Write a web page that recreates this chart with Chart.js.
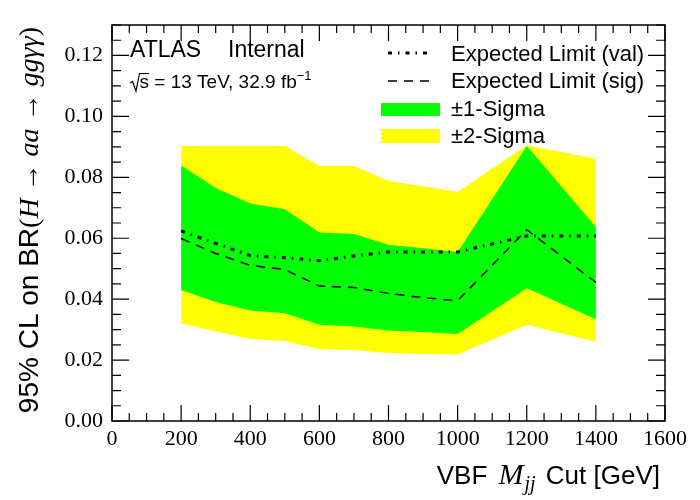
<!DOCTYPE html>
<html>
<head>
<meta charset="utf-8">
<script src="https://cdn.jsdelivr.net/npm/chart.js@4.4.1/dist/chart.umd.min.js"></script>
<style>
  html, body { margin: 0; padding: 0; background: #fff; }
  #wrap { width: 700px; height: 500px; position: relative; }
</style>
</head>
<body>
<div id="wrap"><canvas id="limitChart"></canvas></div>
<script>
// VBF Mjj cut values [GeV]
const mjjCuts = [200, 300, 400, 500, 600, 700, 800, 900, 1000, 1200, 1400];

// expected limits on BR(H -> aa -> gg yy)
const expVal = [0.0624, 0.0583, 0.0543, 0.0536, 0.0526, 0.0542, 0.0555, 0.0555, 0.0555, 0.0607, 0.0607];
const expSig = [0.0599, 0.0550, 0.0511, 0.0497, 0.0443, 0.0438, 0.0419, 0.0405, 0.0395, 0.0628, 0.0455];

// sigma bands
const sig1Up = [0.0839, 0.0765, 0.0714, 0.0695, 0.0619, 0.0614, 0.0579, 0.0567, 0.0555, 0.0903, 0.0637];
const sig1Dn = [0.0430, 0.0391, 0.0363, 0.0354, 0.0316, 0.0310, 0.0297, 0.0292, 0.0286, 0.0436, 0.0334];
const sig2Up = [0.0903, 0.0903, 0.0903, 0.0903, 0.0837, 0.0837, 0.0788, 0.0771, 0.0752, 0.0905, 0.0861];
const sig2Dn = [0.0321, 0.0294, 0.0269, 0.0263, 0.0236, 0.0233, 0.0223, 0.0220, 0.0218, 0.0316, 0.0260];

// axis tick labels
const xTickVals = [0, 200, 400, 600, 800, 1000, 1200, 1400, 1600];
const yTickVals = [0, 0.02, 0.04, 0.06, 0.08, 0.10, 0.12];

const GREEN = '#00ff00';
const YELLOW = '#ffff00';
const SANS = '"Liberation Sans", Arial, sans-serif';
const SERIF = '"Liberation Serif", "Times New Roman", serif';

const VAL_DASH = [4, 6, 1.5, 6];
const SIG_DASH = [9, 7];

function pts(ys) {
    return mjjCuts.map((x, i) => ({ x: x, y: ys[i] }));
}

function band(ys, fillTo, color, order) {
    return {
        data: pts(ys),
        borderWidth: 0,
        pointRadius: 0,
        backgroundColor: color,
        borderColor: color,
        fill: fillTo,
        order: order,
        tension: 0
    };
}

// draw a run of text pieces with different fonts, left to right
function drawPieces(ctx, pieces, x, y) {
    let cx = x;
    pieces.forEach(p => {
        ctx.font = p.f;
        ctx.fillText(p.t, cx, y + (p.dy || 0));
        cx += ctx.measureText(p.t).width + (p.gap || 0);
    });
    return cx;
}

function piecesWidth(ctx, pieces) {
    let w = 0;
    pieces.forEach(p => {
        ctx.font = p.f;
        w += ctx.measureText(p.t).width + (p.gap || 0);
    });
    return w;
}

// ROOT-like frame with inner ticks on all four sides
const frameTicks = {
    id: 'frameTicks',
    afterDatasetsDraw(chart) {
        const ctx = chart.ctx;
        const a = chart.chartArea;
        const xs = chart.scales.x;
        const ys = chart.scales.y;
        ctx.save();
        ctx.strokeStyle = '#000';
        ctx.lineWidth = 1.2;
        ctx.beginPath();
        for (let v = xs.min; v <= xs.max + 1e-9; v += 50) {
            const px = xs.getPixelForValue(v);
            const len = (v % 200 === 0) ? 16 : 8;
            ctx.moveTo(px, a.bottom); ctx.lineTo(px, a.bottom - len);
            ctx.moveTo(px, a.top); ctx.lineTo(px, a.top + len);
        }
        for (let k = 0; k <= 26; k++) {
            const v = k * 0.005;
            const py = ys.getPixelForValue(v);
            const len = (k % 4 === 0) ? 17 : 9;
            ctx.moveTo(a.left, py); ctx.lineTo(a.left + len, py);
            ctx.moveTo(a.right, py); ctx.lineTo(a.right - len, py);
        }
        ctx.stroke();
        ctx.lineWidth = 1.5;
        ctx.strokeRect(a.left, a.top, a.right - a.left, a.bottom - a.top);
        ctx.restore();
    }
};

// axis titles, ATLAS label and legend
const annotations = {
    id: 'annotations',
    afterDraw(chart) {
        const ctx = chart.ctx;
        const a = chart.chartArea;
        ctx.save();
        ctx.fillStyle = '#000';
        ctx.textBaseline = 'alphabetic';
        ctx.textAlign = 'left';

        // y title, rotated, ending near the top of the frame
        const yt = [
            { t: '95% CL on BR', f: '28px ' + SANS },
            { t: '(', f: '28px ' + SERIF },
            { t: 'H', f: 'italic 28px ' + SERIF },
            { t: ' \u2192 ', f: '28px ' + SERIF },
            { t: 'aa', f: 'italic 28px ' + SERIF },
            { t: ' \u2192 ', f: '28px ' + SERIF },
            { t: 'gg\u03b3\u03b3', f: 'italic 28px ' + SERIF },
            { t: ')', f: '28px ' + SERIF }
        ];
        const yw = piecesWidth(ctx, yt);
        ctx.save();
        ctx.translate(38, a.top + 2);
        ctx.rotate(-Math.PI / 2);
        drawPieces(ctx, yt, -yw, 0);
        ctx.restore();

        // x title, right aligned to the frame
        const xt = [
            { t: 'VBF ', f: '26px ' + SANS, gap: 4 },
            { t: 'M', f: 'italic 30px ' + SERIF, gap: 1 },
            { t: 'jj', f: 'italic 20px ' + SERIF, dy: 6, gap: 3 },
            { t: ' Cut [GeV]', f: '26px ' + SANS }
        ];
        const xw = piecesWidth(ctx, xt);
        drawPieces(ctx, xt, a.right - 5 - xw, 484);

        // ATLAS label
        ctx.font = '23px ' + SANS;
        ctx.fillText('ATLAS', 130, 57);
        ctx.fillText('Internal', 228, 57);

        // sqrt(s) with a drawn radical sign
        ctx.lineWidth = 1.2;
        ctx.strokeStyle = '#000';
        ctx.beginPath();
        ctx.moveTo(130, 83);
        ctx.lineTo(132.5, 81.5);
        ctx.lineTo(136, 91);
        ctx.lineTo(139.5, 73.5);
        ctx.lineTo(149, 73.5);
        ctx.stroke();
        const lumi = [
            { t: 's = 13 TeV, 32.9 fb', f: '19px ' + SANS },
            { t: '\u22121', f: '13px ' + SANS, dy: -8 }
        ];
        drawPieces(ctx, lumi, 139.5, 88);

        // legend
        const ds = chart.data.datasets;
        ctx.font = '22px ' + SANS;
        const tx = 451;
        ctx.lineWidth = ds[4].borderWidth;
        ctx.setLineDash(ds[4].borderDash);
        ctx.beginPath(); ctx.moveTo(388, 53); ctx.lineTo(433, 53); ctx.stroke();
        ctx.lineWidth = ds[5].borderWidth;
        ctx.setLineDash(ds[5].borderDash);
        ctx.beginPath(); ctx.moveTo(388, 81); ctx.lineTo(433, 81); ctx.stroke();
        ctx.setLineDash([]);
        ctx.fillText(ds[4].label, tx, 61);
        ctx.fillText(ds[5].label, tx, 88);
        ctx.fillStyle = ds[2].backgroundColor;
        ctx.fillRect(381, 103, 59, 13);
        ctx.fillStyle = ds[0].backgroundColor;
        ctx.fillRect(381, 129, 59, 14);
        ctx.fillStyle = '#000';
        ctx.fillText('\u00b11-Sigma', tx, 116);
        ctx.fillText('\u00b12-Sigma', tx, 143);
        ctx.restore();
    }
};

const ctx = document.getElementById('limitChart').getContext('2d');
new Chart(ctx, {
    type: 'line',
    data: {
        datasets: [
            band(sig2Up, 1, YELLOW, 5),
            band(sig2Dn, false, YELLOW, 5),
            band(sig1Up, 3, GREEN, 4),
            band(sig1Dn, false, GREEN, 4),
            {
                label: 'Expected Limit (val)',
                data: pts(expVal),
                borderColor: '#000',
                borderWidth: 3,
                borderDash: VAL_DASH,
                pointRadius: 0,
                fill: false,
                order: 1,
                tension: 0
            },
            {
                label: 'Expected Limit (sig)',
                data: pts(expSig),
                borderColor: '#000',
                borderWidth: 1.5,
                borderDash: SIG_DASH,
                pointRadius: 0,
                fill: false,
                order: 1,
                tension: 0
            }
        ]
    },
    options: {
        responsive: true,
        maintainAspectRatio: false,
        animation: false,
        layout: { padding: { top: 25, right: 35, left: 0, bottom: 0 } },
        plugins: {
            legend: { display: false },
            tooltip: { enabled: false },
            filler: { propagate: false }
        },
        scales: {
            x: {
                type: 'linear',
                min: 0,
                max: 1600,
                grid: { display: false, drawTicks: false },
                border: { display: false },
                afterBuildTicks(scale) {
                    scale.ticks = xTickVals.map(v => ({ value: v }));
                },
                afterFit(scale) { scale.height = 79; },
                ticks: {
                    padding: 5,
                    maxRotation: 0,
                    autoSkip: false,
                    color: '#000',
                    font: { family: SERIF, size: 22 },
                    callback: v => String(v)
                }
            },
            y: {
                type: 'linear',
                min: 0,
                max: 0.13,
                grid: { display: false, drawTicks: false },
                border: { display: false },
                afterBuildTicks(scale) {
                    scale.ticks = yTickVals.map(v => ({ value: v }));
                },
                afterFit(scale) { scale.width = 112; },
                ticks: {
                    padding: 9,
                    autoSkip: false,
                    color: '#000',
                    font: { family: SERIF, size: 22 },
                    callback: v => Number(v).toFixed(2)
                }
            }
        }
    },
    plugins: [frameTicks, annotations]
});
</script>
</body>
</html>
